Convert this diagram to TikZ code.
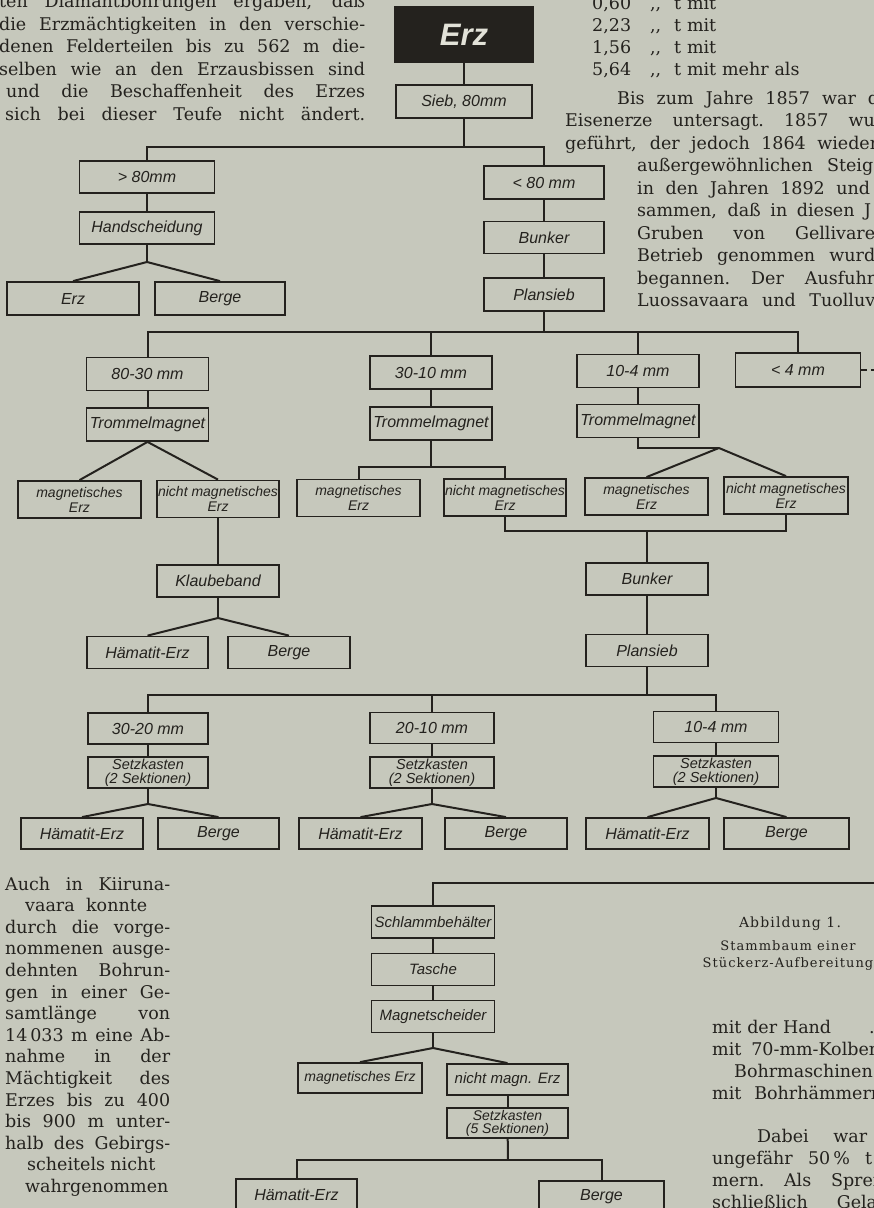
\documentclass[tikz,border=0pt]{standalone}
\usepackage{fontspec}
\setmainfont{DejaVu Serif}
\newfontfamily\techfont{Liberation Sans}
\newfontfamily\capfont[LetterSpace=8]{DejaVu Serif}
\definecolor{paper}{RGB}{198,200,188}
\definecolor{ink}{RGB}{36,34,30}
\definecolor{erzwhite}{RGB}{226,226,216}
% one justified line of running text, stretched to the given width
\newcommand{\jrow}[2]{\leavevmode\hbox to #1{\spaceskip=0.3em plus 1fil\xspaceskip=0.3em plus 1fil\relax #2}}

\begin{document}
\begin{tikzpicture}[
  x=1pt, y=-1pt,
  block/.style={
    draw=ink,
    line width=1.8pt,
    fill=paper,
    minimum width=122pt,
    minimum height=32pt,
    inner sep=1pt,
    align=center,
    text=ink,
    font=\techfont\itshape\fontsize{16}{16}\selectfont
  },
  twoline/.style={
    block,
    minimum height=37pt,
    font=\techfont\itshape\fontsize{14}{15}\selectfont
  },
  setzblock/.style={
    block,
    minimum height=31pt,
    font=\techfont\itshape\fontsize{14.5}{13.5}\selectfont
  },
  smallblock/.style={
    block,
    font=\techfont\itshape\fontsize{15}{15}\selectfont
  },
  erzblock/.style={
    draw=ink,
    line width=1.8pt,
    fill=ink,
    minimum width=138pt,
    minimum height=55pt,
    text=erzwhite,
    font=\techfont\bfseries\itshape\fontsize{31}{31}\selectfont
  },
  line/.style={draw=ink, line width=2pt},
  bodytext/.style={anchor=base west, inner sep=0pt, text=ink, align=left,
    font=\fontsize{17.5}{22.5}\selectfont},
  caption/.style={anchor=base, inner sep=0pt, text=ink,
    font=\capfont\fontsize{13}{15}\selectfont}
]

\useasboundingbox (0,0) rectangle (874,1208);
\fill[paper] (0,0) rectangle (874,1208);

% ===== Running text round the figure =====
\node[bodytext, text width=372pt] (txtTL) at (-1,7.5) {%
  \jrow{366pt}{ten Diamantbohrungen ergaben, daß}\\
  \jrow{366pt}{die Erzmächtigkeiten in den verschie-}\\
  \jrow{366pt}{denen Felderteilen bis zu 562 m die-}\\
  \jrow{366pt}{selben wie an den Erzausbissen sind}\\
  \hspace*{7pt}\jrow{359pt}{und die Beschaffenheit des Erzes}\\
  \hspace*{6pt}\jrow{360pt}{sich bei dieser Teufe nicht ändert.}};

\node[bodytext, text width=300pt, font=\fontsize{17.5}{22}\selectfont] (txtNum) at (592,9) {%
  \makebox[58pt][l]{0,60}\makebox[24pt][l]{,{},}t mit\\
  \makebox[58pt][l]{2,23}\makebox[24pt][l]{,{},}t mit\\
  \makebox[58pt][l]{1,56}\makebox[24pt][l]{,{},}t mit\\
  \makebox[58pt][l]{5,64}\makebox[24pt][l]{,{},}t mit mehr als};

\node[bodytext, text width=340pt] (txtTR) at (565,104) {%
  \hspace*{52pt}\jrow{262pt}{Bis zum Jahre 1857 war d}\\
  \jrow{318pt}{Eisenerze untersagt. 1857 wur}\\
  \jrow{313pt}{geführt, der jedoch 1864 wieder}\\
  \hspace*{72pt}\jrow{236pt}{außergewöhnlichen Steig}\\
  \hspace*{72pt}\jrow{233pt}{in den Jahren 1892 und}\\
  \hspace*{72pt}\jrow{234pt}{sammen, daß in diesen J}\\
  \hspace*{72pt}\jrow{238pt}{Gruben von Gellivare}\\
  \hspace*{72pt}\jrow{238pt}{Betrieb genommen wurd}\\
  \hspace*{72pt}\jrow{238pt}{begannen. Der Ausfuhr}\\
  \hspace*{72pt}\jrow{238pt}{Luossavaara und Tuolluv}};

\node[bodytext, text width=175pt, font=\fontsize{17.5}{21.6}\selectfont] (txtBL) at (5,890) {%
  \jrow{165pt}{Auch in Kiiruna-}\\
  \hspace*{20pt}\jrow{122pt}{vaara konnte}\\
  \jrow{165pt}{durch die vorge-}\\
  \jrow{165pt}{nommenen ausge-}\\
  \jrow{165pt}{dehnten Bohrun-}\\
  \jrow{165pt}{gen in einer Ge-}\\
  \jrow{165pt}{samtlänge von}\\
  \jrow{165pt}{14\,033 m eine Ab-}\\
  \jrow{165pt}{nahme in der}\\
  \jrow{165pt}{Mächtigkeit des}\\
  \jrow{165pt}{Erzes bis zu 400}\\
  \jrow{165pt}{bis 900 m unter-}\\
  \jrow{165pt}{halb des Gebirgs-}\\
  \hspace*{22pt}\jrow{121pt}{scheitels nicht}\\
  \hspace*{20pt}wahrgenommen};

\node[bodytext, text width=220pt, font=\fontsize{17.5}{22}\selectfont] (txtBR1) at (712,1033) {%
  \makebox[157pt][l]{mit der Hand}.\\
  \jrow{168pt}{mit 70-mm-Kolben}\\
  \hspace*{22pt}Bohrmaschinen\\
  \jrow{170pt}{mit Bohrhämmern}};

\node[bodytext, text width=220pt, font=\fontsize{17.5}{22}\selectfont] (txtBR2) at (712,1142) {%
  \hspace*{45pt}\jrow{110pt}{Dabei war}\\
  \jrow{160pt}{ungefähr 50\,\% t}\\
  \jrow{172pt}{mern. Als Spren}\\
  \jrow{172pt}{schließlich Gelat}};

% caption
\node[caption, font=\capfont\fontsize{14}{16}\selectfont] (capA) at (790,927) {Abbildung 1.};
\node[caption] (capB) at (788,950) {Stammbaum einer};
\node[caption] (capC) at (788,967) {Stückerz-Aufbereitung};

% ===== Crude ore and first screen =====
\node[erzblock] (erz) at (464,34.5) {Erz};
\node[block, minimum width=136pt, minimum height=33pt] (sieb) at (464,101.5) {Sieb, 80mm};
\draw[line] (erz) -- (sieb);

\coordinate (jSieb) at (464,147);
\draw[line] (sieb) -- (jSieb);

% coarse lumps, picked by hand
\node[block, minimum width=135pt] (gt80) at (147,177) {> 80mm};
\node[block, minimum width=135pt] (hand) at (147,228) {Handscheidung};
\node[block, minimum width=132pt, minimum height=33pt] (erzA) at (73,298.5) {Erz};
\node[block, minimum width=130pt, minimum height=33pt] (bergeA) at (220,298.5) {Berge};
\draw[line] (jSieb) -| (gt80);
\draw[line] (gt80) -- (hand);
\coordinate (aHand) at (147,262);
\draw[line] (hand) -- (aHand);
\draw[line] (aHand) -- (erzA.north);
\draw[line] (aHand) -- (bergeA.north);

% fines to the bunker
\node[block, minimum width=120pt, minimum height=33pt] (lt80) at (544,182.5) {< 80 mm};
\node[block, minimum width=120pt] (bunkerA) at (544,237.5) {Bunker};
\node[block, minimum width=120pt, minimum height=33pt] (planA) at (544,294.5) {Plansieb};
\draw[line] (jSieb) -| (lt80);
\draw[line] (lt80) -- (bunkerA);
\draw[line] (bunkerA) -- (planA);

% ===== Size classes after the Plansieb =====
\coordinate (jPlanA) at (544,332);
\draw[line] (planA) -- (jPlanA);

\node[block, minimum height=33pt] (r8030) at (147.5,374) {80-30 mm};
\node[block, minimum height=33pt] (r3010) at (431,372.5) {30-10 mm};
\node[block, minimum height=33pt] (r104) at (638,371) {10-4 mm};
\node[block, minimum width=125pt, minimum height=34pt] (r4) at (798,370) {< 4 mm};
\draw[line] (jPlanA) -| (r8030);
\draw[line] (jPlanA) -| (r3010);
\draw[line] (jPlanA) -| (r104);
\draw[line] (jPlanA) -| (r4);
\coordinate (offA) at (880,370);
\draw[line, dash pattern=on 6pt off 4pt] (r4) -- (offA);

\node[block, minimum height=33pt] (trA) at (147.5,424.5) {Trommelmagnet};
\node[block, minimum height=33pt] (trB) at (431,423.5) {Trommelmagnet};
\node[block, minimum height=33pt] (trC) at (638,421) {Trommelmagnet};
\draw[line] (r8030) -- (trA);
\draw[line] (r3010) -- (trB);
\draw[line] (r104) -- (trC);

\node[twoline, minimum width=123pt] (magA) at (79.5,499.5) {magnetisches\\Erz};
\node[twoline] (nmagA) at (218,499) {nicht magnetisches\\Erz};
\node[twoline, minimum width=123pt] (magB) at (358.5,498) {magnetisches\\Erz};
\node[twoline, minimum width=121pt] (nmagB) at (505,497.5) {nicht magnetisches\\Erz};
\node[twoline, minimum width=123pt] (magC) at (646.5,496.5) {magnetisches\\Erz};
\node[twoline, minimum width=124pt] (nmagC) at (786,495.5) {nicht magnetisches\\Erz};

\draw[line] (trA.south) -- (magA.north);
\draw[line] (trA.south) -- (nmagA.north);

\coordinate (jTrB) at (431,467);
\draw[line] (trB) -- (jTrB);
\draw[line] (jTrB) -| (magB);
\draw[line] (jTrB) -| (nmagB);

\coordinate (jTrC) at (719,448);
\draw[line] (trC) |- (jTrC);
\draw[line] (jTrC) -- (magC.north);
\draw[line] (jTrC) -- (nmagC.north);

% non-magnetic coarse ore on the picking belt
\node[block] (klaube) at (218,581) {Klaubeband};
\node[block, minimum width=121pt] (hemA) at (147.5,652.5) {Hämatit-Erz};
\node[block] (bergeB) at (289,652.5) {Berge};
\draw[line] (nmagA) -- (klaube);
\coordinate (aKlaube) at (218,618);
\draw[line] (klaube) -- (aKlaube);
\draw[line] (aKlaube) -- (hemA.north);
\draw[line] (aKlaube) -- (bergeB.north);

% ===== Non-magnetic fines to the jigs =====
\coordinate (jColl) at (647,531);
\draw[line] (nmagB) |- (jColl);
\draw[line] (jColl) -| (nmagC);

\node[block] (bunkerB) at (647,579) {Bunker};
\node[block] (planB) at (647,650.5) {Plansieb};
\draw[line] (jColl) -- (bunkerB);
\draw[line] (bunkerB) -- (planB);

\coordinate (jPlanB) at (647,695);
\draw[line] (planB) -- (jPlanB);

\node[block, minimum width=120pt, minimum height=31pt] (s3020) at (148,728.5) {30-20 mm};
\node[block, minimum width=124pt, minimum height=31pt] (s2010) at (432,728) {20-10 mm};
\node[block, minimum width=125pt, minimum height=31pt] (s104) at (716,727) {10-4 mm};
\draw[line] (jPlanB) -| (s3020);
\draw[line] (jPlanB) -| (s2010);
\draw[line] (jPlanB) -| (s104);

\node[setzblock, minimum width=120pt] (setzA) at (148,772.5) {Setzkasten\\(2 Sektionen)};
\node[setzblock, minimum width=124pt] (setzB) at (432,772.5) {Setzkasten\\(2 Sektionen)};
\node[setzblock, minimum width=125pt] (setzC) at (716,771.5) {Setzkasten\\(2 Sektionen)};
\draw[line] (s3020) -- (setzA);
\draw[line] (s2010) -- (setzB);
\draw[line] (s104) -- (setzC);

\node[block, minimum height=31pt] (hemL) at (82,833.5) {Hämatit-Erz};
\node[block, minimum width=121pt, minimum height=31pt] (bergeL) at (218.5,833.5) {Berge};
\node[block, minimum width=123pt, minimum height=31pt] (hemM) at (360.5,833.5) {Hämatit-Erz};
\node[block, minimum height=31pt] (bergeM) at (506,833.5) {Berge};
\node[block, minimum width=123pt, minimum height=31pt] (hemR) at (647.5,833.5) {Hämatit-Erz};
\node[block, minimum width=125pt, minimum height=31pt] (bergeR) at (786.5,833.5) {Berge};

\coordinate (aSetzA) at (148,804);
\coordinate (aSetzB) at (432,804);
\coordinate (aSetzC) at (716,798);
\draw[line] (setzA) -- (aSetzA);
\draw[line] (aSetzA) -- (hemL.north);
\draw[line] (aSetzA) -- (bergeL.north);
\draw[line] (setzB) -- (aSetzB);
\draw[line] (aSetzB) -- (hemM.north);
\draw[line] (aSetzB) -- (bergeM.north);
\draw[line] (setzC) -- (aSetzC);
\draw[line] (aSetzC) -- (hemR.north);
\draw[line] (aSetzC) -- (bergeR.north);

% ===== Slimes (< 4 mm) =====
\coordinate (offB) at (880,883);
\node[smallblock, minimum width=123pt] (schlamm) at (433,922) {Schlammbehälter};
\node[smallblock, minimum width=123pt] (tasche) at (433,969.5) {Tasche};
\node[smallblock, minimum width=123pt] (magsch) at (433,1016.5) {Magnetscheider};
\draw[line] (offB) -| (schlamm);
\draw[line] (schlamm) -- (tasche);
\draw[line] (tasche) -- (magsch);

\node[smallblock, minimum width=124pt, minimum height=30pt, font=\techfont\itshape\fontsize{14}{14}\selectfont] (magD) at (360,1078) {magnetisches Erz};
\node[smallblock, minimum width=121pt, minimum height=31pt] (nmagD) at (507.5,1079.5) {nicht magn. Erz};
\coordinate (aMag) at (433,1048);
\draw[line] (magsch) -- (aMag);
\draw[line] (aMag) -- (magD.north);
\draw[line] (aMag) -- (nmagD.north);

\node[setzblock, minimum width=121pt, minimum height=30pt, font=\techfont\itshape\fontsize{14}{13.2}\selectfont] (setzD) at (507.5,1123) {Setzkasten\\(5 Sektionen)};
\draw[line] (nmagD) -- (setzD);

\coordinate (jSetzD) at (508,1160);
\draw[line] (setzD) -- (jSetzD);
\node[block, minimum width=121pt] (hemD) at (296.5,1195) {Hämatit-Erz};
\node[block, minimum width=125pt] (bergeD) at (601.5,1197) {Berge};
\draw[line] (jSetzD) -| (hemD);
\draw[line] (jSetzD) -| (bergeD);

\end{tikzpicture}
\end{document}
